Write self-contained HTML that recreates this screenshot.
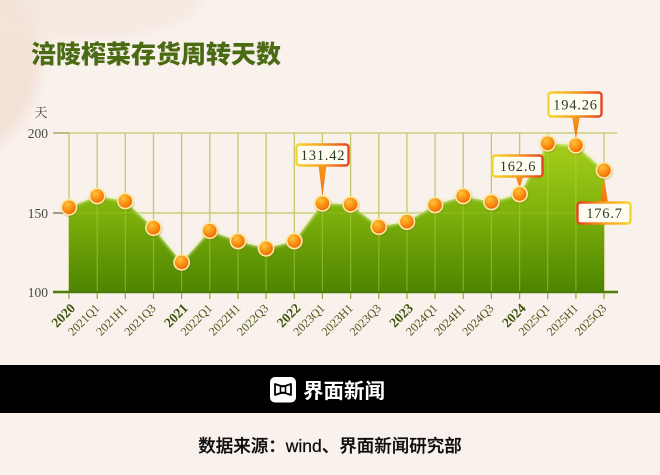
<!DOCTYPE html>
<html><head><meta charset="utf-8"><style>
html,body{margin:0;padding:0;}
body{width:660px;height:475px;overflow:hidden;background:#f9f1ec;}
svg{display:block}
</style></head><body>
<svg width="660" height="475" viewBox="0 0 660 475" xmlns="http://www.w3.org/2000/svg">
<defs>
<filter id="blur" x="-50%" y="-50%" width="200%" height="200%"><feGaussianBlur stdDeviation="6"/></filter>
<filter id="sh" x="-50%" y="-50%" width="200%" height="200%"><feDropShadow dx="0.5" dy="1" stdDeviation="0.8" flood-color="#7a5a00" flood-opacity="0.35"/></filter>
<filter id="glow" x="-10%" y="-10%" width="120%" height="120%"><feGaussianBlur stdDeviation="1.2"/></filter>
<linearGradient id="area" x1="0" y1="140" x2="0" y2="292" gradientUnits="userSpaceOnUse">
<stop offset="0" stop-color="#a8cf1c"/><stop offset="0.45" stop-color="#80b40c"/><stop offset="1" stop-color="#4d8400"/>
</linearGradient>
<radialGradient id="dot" cx="0.38" cy="0.32" r="0.7">
<stop offset="0" stop-color="#ffc23a"/><stop offset="0.55" stop-color="#f99014"/><stop offset="1" stop-color="#ee6400"/>
</radialGradient>
<linearGradient id="bd" x1="0" y1="0" x2="1" y2="0">
<stop offset="0" stop-color="#f6d62c"/><stop offset="0.5" stop-color="#f5a020"/><stop offset="1" stop-color="#e5431c"/>
</linearGradient>
<linearGradient id="bdr" x1="0" y1="0" x2="1" y2="0">
<stop offset="0" stop-color="#e5431c"/><stop offset="0.5" stop-color="#f5a020"/><stop offset="1" stop-color="#f6d62c"/>
</linearGradient>
<linearGradient id="ptr" x1="0" y1="0" x2="0" y2="1">
<stop offset="0" stop-color="#f7961e"/><stop offset="1" stop-color="#f07410"/>
</linearGradient>
</defs>

<rect width="660" height="475" fill="#f9f1ec"/>
<circle cx="-72" cy="58" r="112" fill="#f2e1d6" filter="url(#blur)"/>
<ellipse cx="60" cy="0" rx="140" ry="40" fill="#f4e6dc" filter="url(#blur)" opacity="0.7"/>

<text x="31" y="63" font-family="'Liberation Sans','Noto Sans CJK SC',sans-serif" font-size="25" font-weight="900" fill="#4b6a14">涪陵榨菜存货周转天数</text>

<text x="41" y="117" text-anchor="middle" font-family="'Liberation Serif','Noto Serif CJK SC',serif" font-size="13" fill="#444">天</text>
<g font-family="'Liberation Serif',serif" font-size="13.5" fill="#4a4a40" text-anchor="end">
<text x="48" y="138">200</text>
<text x="48" y="218">150</text>
<text x="48" y="297">100</text>
</g>

<g stroke="#c3c86c" stroke-width="1.3">
<line x1="53" y1="133" x2="617" y2="133"/>
<line x1="53" y1="213" x2="617" y2="213"/>
<line x1="69" y1="133" x2="69" y2="292"/><line x1="97.2" y1="133" x2="97.2" y2="292"/><line x1="125.3" y1="133" x2="125.3" y2="292"/><line x1="153.5" y1="133" x2="153.5" y2="292"/><line x1="181.6" y1="133" x2="181.6" y2="292"/><line x1="209.8" y1="133" x2="209.8" y2="292"/><line x1="238" y1="133" x2="238" y2="292"/><line x1="266.1" y1="133" x2="266.1" y2="292"/><line x1="294.3" y1="133" x2="294.3" y2="292"/><line x1="322.4" y1="133" x2="322.4" y2="292"/><line x1="350.6" y1="133" x2="350.6" y2="292"/><line x1="378.8" y1="133" x2="378.8" y2="292"/><line x1="406.9" y1="133" x2="406.9" y2="292"/><line x1="435.1" y1="133" x2="435.1" y2="292"/><line x1="463.2" y1="133" x2="463.2" y2="292"/><line x1="491.4" y1="133" x2="491.4" y2="292"/><line x1="519.6" y1="133" x2="519.6" y2="292"/><line x1="547.7" y1="133" x2="547.7" y2="292"/><line x1="575.9" y1="133" x2="575.9" y2="292"/><line x1="604" y1="133" x2="604" y2="292"/>
</g>
<line x1="53" y1="213" x2="69" y2="213" stroke="#7a7a50" stroke-width="1.3"/>
<line x1="53" y1="133" x2="69" y2="133" stroke="#a0a860" stroke-width="1.3"/>

<path d="M69,292 L69,207.3 L97.2,196 L125.3,201 L153.5,227.7 L181.6,262.3 L209.8,230.7 L238,241 L266.1,248.3 L294.3,241 L322.4,203.3 L350.6,204.3 L378.8,226.7 L406.9,221.7 L435.1,205 L463.2,196 L491.4,202 L519.6,194 L547.7,143.3 L575.9,145.3 L604,170.3 L604,292 Z" fill="url(#area)"/>
<polyline points="69,207.3 97.2,196 125.3,201 153.5,227.7 181.6,262.3 209.8,230.7 238,241 266.1,248.3 294.3,241 322.4,203.3 350.6,204.3 378.8,226.7 406.9,221.7 435.1,205 463.2,196 491.4,202 519.6,194 547.7,143.3 575.9,145.3 604,170.3" fill="none" stroke="#e4efb0" stroke-width="2.5" opacity="0.75" filter="url(#glow)"/>
<g stroke="#b8d858" stroke-width="1.2" opacity="0.45">
<line x1="97.2" y1="200" x2="97.2" y2="292"/><line x1="125.3" y1="205" x2="125.3" y2="292"/><line x1="153.5" y1="232" x2="153.5" y2="292"/><line x1="181.6" y1="266" x2="181.6" y2="292"/><line x1="209.8" y1="235" x2="209.8" y2="292"/><line x1="238" y1="245" x2="238" y2="292"/><line x1="266.1" y1="252" x2="266.1" y2="292"/><line x1="294.3" y1="245" x2="294.3" y2="292"/><line x1="322.4" y1="208" x2="322.4" y2="292"/><line x1="350.6" y1="208" x2="350.6" y2="292"/><line x1="378.8" y1="231" x2="378.8" y2="292"/><line x1="406.9" y1="226" x2="406.9" y2="292"/><line x1="435.1" y1="209" x2="435.1" y2="292"/><line x1="463.2" y1="200" x2="463.2" y2="292"/><line x1="491.4" y1="206" x2="491.4" y2="292"/><line x1="519.6" y1="198" x2="519.6" y2="292"/><line x1="547.7" y1="148" x2="547.7" y2="292"/><line x1="575.9" y1="150" x2="575.9" y2="292"/>
<line x1="69" y1="213" x2="604" y2="213" opacity="0.6"/>
</g>

<line x1="53" y1="292" x2="618" y2="292" stroke="#4e7c08" stroke-width="2.5"/>
<g stroke="#9aae3c" stroke-width="1.3">
<line x1="69" y1="293" x2="69" y2="299"/><line x1="97.2" y1="293" x2="97.2" y2="299"/><line x1="125.3" y1="293" x2="125.3" y2="299"/><line x1="153.5" y1="293" x2="153.5" y2="299"/><line x1="181.6" y1="293" x2="181.6" y2="299"/><line x1="209.8" y1="293" x2="209.8" y2="299"/><line x1="238" y1="293" x2="238" y2="299"/><line x1="266.1" y1="293" x2="266.1" y2="299"/><line x1="294.3" y1="293" x2="294.3" y2="299"/><line x1="322.4" y1="293" x2="322.4" y2="299"/><line x1="350.6" y1="293" x2="350.6" y2="299"/><line x1="378.8" y1="293" x2="378.8" y2="299"/><line x1="406.9" y1="293" x2="406.9" y2="299"/><line x1="435.1" y1="293" x2="435.1" y2="299"/><line x1="463.2" y1="293" x2="463.2" y2="299"/><line x1="491.4" y1="293" x2="491.4" y2="299"/><line x1="519.6" y1="293" x2="519.6" y2="299"/><line x1="547.7" y1="293" x2="547.7" y2="299"/><line x1="575.9" y1="293" x2="575.9" y2="299"/><line x1="604" y1="293" x2="604" y2="299"/>
</g>

<g font-family="'Liberation Serif',serif" text-anchor="end">
<g font-size="13.5" font-weight="bold" fill="#3e560c">
<text transform="translate(76,309) rotate(-45)">2020</text>
<text transform="translate(188.6,309) rotate(-45)">2021</text>
<text transform="translate(301.3,309) rotate(-45)">2022</text>
<text transform="translate(413.9,309) rotate(-45)">2023</text>
<text transform="translate(526.6,309) rotate(-45)">2024</text>
</g>
<g font-size="12" fill="#4c5418">
<text transform="translate(100.2,309) rotate(-45)">2021Q1</text>
<text transform="translate(128.3,309) rotate(-45)">2021H1</text>
<text transform="translate(156.5,309) rotate(-45)">2021Q3</text>
<text transform="translate(212.8,309) rotate(-45)">2022Q1</text>
<text transform="translate(241,309) rotate(-45)">2022H1</text>
<text transform="translate(269.1,309) rotate(-45)">2022Q3</text>
<text transform="translate(325.4,309) rotate(-45)">2023Q1</text>
<text transform="translate(353.6,309) rotate(-45)">2023H1</text>
<text transform="translate(381.8,309) rotate(-45)">2023Q3</text>
<text transform="translate(438.1,309) rotate(-45)">2024Q1</text>
<text transform="translate(466.2,309) rotate(-45)">2024H1</text>
<text transform="translate(494.4,309) rotate(-45)">2024Q3</text>
<text transform="translate(550.7,309) rotate(-45)">2025Q1</text>
<text transform="translate(578.9,309) rotate(-45)">2025H1</text>
<text transform="translate(607,309) rotate(-45)">2025Q3</text>
</g>
</g>

<polygon points="318.5,165 326.5,165 322.4,197" fill="url(#ptr)"/>
<polygon points="515.5,176 523.5,176 519.6,188" fill="url(#ptr)"/>
<polygon points="572,116 580,116 575.9,139" fill="url(#ptr)"/>
<polygon points="600,203 608,203 604,176" fill="url(#ptr)"/>

<g fill="url(#dot)" stroke="#fde9a4" stroke-width="1.6" filter="url(#sh)">
<circle cx="69" cy="207.3" r="7.6"/><circle cx="97.2" cy="196" r="7.6"/><circle cx="125.3" cy="201" r="7.6"/><circle cx="153.5" cy="227.7" r="7.6"/><circle cx="181.6" cy="262.3" r="7.6"/><circle cx="209.8" cy="230.7" r="7.6"/><circle cx="238" cy="241" r="7.6"/><circle cx="266.1" cy="248.3" r="7.6"/><circle cx="294.3" cy="241" r="7.6"/><circle cx="322.4" cy="203.3" r="7.6"/><circle cx="350.6" cy="204.3" r="7.6"/><circle cx="378.8" cy="226.7" r="7.6"/><circle cx="406.9" cy="221.7" r="7.6"/><circle cx="435.1" cy="205" r="7.6"/><circle cx="463.2" cy="196" r="7.6"/><circle cx="491.4" cy="202" r="7.6"/><circle cx="519.6" cy="194" r="7.6"/><circle cx="547.7" cy="143.3" r="7.6"/><circle cx="575.9" cy="145.3" r="7.6"/><circle cx="604" cy="170.3" r="7.6"/>
</g>

<g font-family="'Liberation Serif',serif" font-size="14.5" fill="#2e3a26" text-anchor="middle" letter-spacing="0.8">
<rect x="296.5" y="144.5" width="52" height="21" rx="3" fill="#fffcf2" stroke="url(#bd)" stroke-width="2.4"/>
<text x="323" y="160">131.42</text>
<rect x="492.5" y="155.5" width="50" height="21" rx="3" fill="#fffcf2" stroke="url(#bd)" stroke-width="2.4"/>
<text x="518" y="171">162.6</text>
<rect x="548.5" y="92.5" width="53" height="24" rx="3" fill="#fffcf2" stroke="url(#bd)" stroke-width="2.4"/>
<text x="575.5" y="109.5">194.26</text>
<rect x="577.5" y="202.5" width="53" height="21" rx="3" fill="#fffcf2" stroke="url(#bdr)" stroke-width="2.4"/>
<text x="604.5" y="218">176.7</text>
</g>

<rect x="0" y="365" width="660" height="48" fill="#000"/>
<rect x="270" y="377" width="26" height="25.5" rx="5" fill="#fff"/>
<path d="M275,384 L281,386 L285,386 L291,384 L291,395 L285,393 L281,393 L275,395 Z" fill="none" stroke="#000" stroke-width="1.8" stroke-linejoin="round"/>
<rect x="280.5" y="386.5" width="5" height="6" fill="none" stroke="#000" stroke-width="1.5"/>
<text x="303" y="398" font-family="'Liberation Sans','Noto Sans CJK SC',sans-serif" font-size="20.5" font-weight="bold" fill="#fff">界面新闻</text>

<text x="330" y="452" text-anchor="middle" font-family="'Liberation Sans','Noto Sans CJK SC',sans-serif" font-size="17.5" font-weight="500" fill="#0d0d0d" stroke="#0d0d0d" stroke-width="0.25">数据来源：wind、界面新闻研究部</text>
</svg>
</body></html>
